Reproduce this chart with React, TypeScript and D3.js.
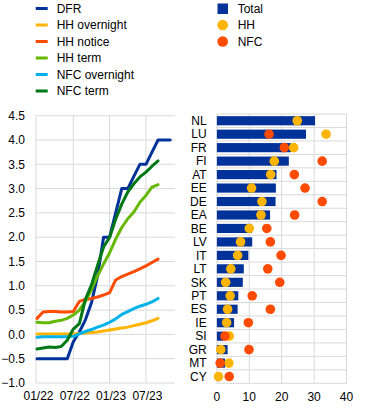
import React, { useEffect, useRef } from 'react';
import * as d3 from 'd3';

// monthly observations, Jan 2022 - Nov 2023
const months = [
  '2022-01', '2022-02', '2022-03', '2022-04', '2022-05', '2022-06',
  '2022-07', '2022-08', '2022-09', '2022-10', '2022-11', '2022-12',
  '2023-01', '2023-02', '2023-03', '2023-04', '2023-05', '2023-06',
  '2023-07', '2023-08', '2023-09', '2023-10', '2023-11',
];

const dfr = [-0.5, -0.5, -0.5, -0.5, -0.5, -0.5, -0.15, 0.05, 0.3, 0.65, 1.2, 2.0,
  2.0, 2.5, 3.0, 3.0, 3.25, 3.5, 3.5, 3.75, 4.0, 4.0, 4.0];
const hhOvernight = [0.01, 0.01, 0.01, 0.01, 0.01, 0.01, 0.01, 0.02, 0.03, 0.04, 0.05, 0.07,
  0.09, 0.11, 0.13, 0.15, 0.18, 0.21, 0.24, 0.28, 0.33];
const hhNotice = [0.33, 0.46, 0.47, 0.47, 0.46, 0.46, 0.47, 0.68, 0.72, 0.74, 0.77, 0.81,
  0.86, 1.12, 1.19, 1.24, 1.29, 1.35, 1.41, 1.48, 1.55];
const hhTerm = [0.25, 0.24, 0.24, 0.27, 0.29, 0.33, 0.4, 0.5, 0.68, 0.92, 1.2, 1.45,
  1.68, 1.96, 2.2, 2.38, 2.52, 2.72, 2.86, 3.03, 3.08];
const nfcOvernight = [-0.06, -0.05, -0.05, -0.05, -0.05, -0.05, -0.04, 0.01, 0.06, 0.1, 0.15, 0.19,
  0.25, 0.32, 0.41, 0.47, 0.53, 0.58, 0.62, 0.67, 0.74];
const nfcTerm = [-0.3, -0.28, -0.26, -0.27, -0.25, -0.12, 0.11, 0.22, 0.72, 1.02, 1.42, 1.8,
  2.0, 2.37, 2.68, 2.93, 3.1, 3.24, 3.34, 3.46, 3.57];

const lineSeries = [
  { name: 'DFR', color: '#003299', values: dfr },
  { name: 'HH overnight', color: '#ffb400', values: hhOvernight },
  { name: 'HH notice', color: '#ff4b00', values: hhNotice },
  { name: 'HH term', color: '#65b800', values: hhTerm },
  { name: 'NFC overnight', color: '#00b1ea', values: nfcOvernight },
  { name: 'NFC term', color: '#007816', values: nfcTerm },
];

const yTicks = [-1.0, -0.5, 0.0, 0.5, 1.0, 1.5, 2.0, 2.5, 3.0, 3.5, 4.0, 4.5];
const xTickMonths = ['2022-01', '2022-07', '2023-01', '2023-07'];
const xTickLabels = ['01/22', '07/22', '01/23', '07/23'];

// pass-through by country
const countries = ['NL', 'LU', 'FR', 'FI', 'AT', 'EE', 'DE', 'EA', 'BE', 'LV',
  'IT', 'LT', 'SK', 'PT', 'ES', 'IE', 'SI', 'GR', 'MT', 'CY'];
const totalPass = [30.3, 27.5, 22.8, 22.2, 18.4, 18.2, 18.1, 16.4, 10.8, 10.9,
  9.7, 8.3, 8.0, 6.6, 6.4, 5.3, 2.0, 3.3, 2.5, 1.0];
const hhPass = [24.8, 33.7, 23.7, 17.7, 16.6, 10.7, 13.9, 13.6, 10.0, 7.3,
  6.4, 4.3, 2.7, 4.1, 3.3, 3.0, 3.8, 1.2, 3.7, 0.5];
const nfcPass = [null, 16.1, 20.8, 32.5, 23.9, 27.2, 32.5, 24.0, 15.4, 16.5,
  19.8, 15.7, 19.4, 10.9, 16.5, 9.7, 2.5, 9.9, 1.0, 3.8];
const barTicks = [0, 10, 20, 30, 40];

const FONT = '"Liberation Sans", Arial, sans-serif';
const GRID = '#d9d9d9';

const App = () => {
  const svgRef = useRef<SVGSVGElement>(null);

  useEffect(() => {
    const svg = d3.select(svgRef.current);
    svg.selectAll('*').remove();
    svg.attr('width', 372).attr('height', 411)
      .style('font-family', FONT).style('font-size', '12px');

    // ---- left panel: rates ----
    const left = 36, right = 175;
    const x = d3.scaleLinear().domain([0, 22.8]).range([37, 175]);
    const y = d3.scaleLinear().domain([-1, 4.5]).range([383, 115.7]);
    const mi = (m: string) => months.indexOf(m);

    const lp = svg.append('g');
    lp.selectAll('.hg').data(yTicks).join('line')
      .attr('x1', left).attr('x2', right)
      .attr('y1', d => y(d)).attr('y2', d => y(d))
      .attr('stroke', GRID).attr('stroke-width', 1);
    lp.append('line').attr('x1', left).attr('x2', left)
      .attr('y1', y(4.5)).attr('y2', y(-1)).attr('stroke', GRID);
    lp.selectAll('.vg').data(xTickMonths.slice(1)).join('line')
      .attr('x1', d => x(mi(d))).attr('x2', d => x(mi(d)))
      .attr('y1', y(4.5)).attr('y2', y(-1)).attr('stroke', GRID);
    lp.selectAll('.yl').data(yTicks).join('text')
      .attr('x', 25).attr('y', d => y(d)).attr('dy', '0.35em')
      .attr('text-anchor', 'end').attr('fill', '#000')
      .text(d => d3.format('.1f')(d));
    lp.selectAll('.xl').data(xTickMonths).join('text')
      .attr('x', d => x(mi(d)) + 1.5).attr('y', 400)
      .attr('text-anchor', 'middle').attr('fill', '#000')
      .text((d, i) => xTickLabels[i]);

    const line = d3.line<number>().x((d, i) => x(i)).y(d => y(d));
    lp.selectAll('.series').data(lineSeries).join('path')
      .attr('d', d => line(d.values))
      .attr('fill', 'none').attr('stroke', d => d.color)
      .attr('stroke-width', 3).attr('stroke-linejoin', 'round').attr('stroke-linecap', 'round');

    // legend left
    const leg = svg.append('g');
    lineSeries.forEach((s, i) => {
      const cy = 8.5 + i * 16.5;
      leg.append('rect').attr('x', 35.7).attr('y', cy - 1.5).attr('width', 12).attr('height', 3).attr('fill', s.color);
      leg.append('text').attr('x', 56.7).attr('y', cy).attr('dy', '0.35em').attr('fill', '#000').text(s.name);
    });

    // ---- right panel: pass-through ----
    const bx = d3.scaleLinear().domain([0, 40]).range([216.9, 346.5]);
    const by = d3.scaleBand().domain(countries).range([114, 383.3]).padding(0);
    const bh = by.bandwidth() * 0.68;

    const rp = svg.append('g');
    rp.selectAll('.bh').data(d3.range(countries.length + 1)).join('line')
      .attr('x1', bx(0)).attr('x2', bx(40))
      .attr('y1', i => 114 + i * by.step()).attr('y2', i => 114 + i * by.step())
      .attr('stroke', GRID);
    rp.selectAll('.bv').data(barTicks).join('line')
      .attr('x1', d => bx(d)).attr('x2', d => bx(d))
      .attr('y1', 114).attr('y2', 383.3).attr('stroke', GRID);
    rp.selectAll('.bxl').data(barTicks).join('text')
      .attr('x', d => bx(d)).attr('y', 401).attr('text-anchor', 'middle').attr('fill', '#000')
      .text(d => d);
    rp.selectAll('.cl').data(countries).join('text')
      .attr('x', 206.7).attr('y', d => (by(d) as number) + by.bandwidth() / 2).attr('dy', '0.35em')
      .attr('text-anchor', 'end').attr('fill', '#000').text(d => d);

    rp.selectAll('.bar').data(countries).join('rect')
      .attr('x', bx(0)).attr('y', d => (by(d) as number) + (by.bandwidth() - bh) / 2)
      .attr('width', (d, i) => bx(totalPass[i]) - bx(0)).attr('height', bh)
      .attr('fill', '#003299');

    const cyOf = (d: string) => (by(d) as number) + by.bandwidth() / 2;
    rp.selectAll('.hh').data(countries).join('circle')
      .attr('cx', (d, i) => bx(hhPass[i])).attr('cy', cyOf)
      .attr('r', 4.8).attr('fill', '#ffb400');
    rp.selectAll('.nfc').data(countries.filter((c, i) => nfcPass[i] != null)).join('circle')
      .attr('cx', d => bx(nfcPass[countries.indexOf(d)] as number)).attr('cy', cyOf)
      .attr('r', 4.8).attr('fill', '#ff4b00');

    // legend right
    const rl = svg.append('g');
    rl.append('rect').attr('x', 217.5).attr('y', 3.5).attr('width', 10.5).attr('height', 10.5).attr('fill', '#003299');
    rl.append('circle').attr('cx', 222.7).attr('cy', 25).attr('r', 5.3).attr('fill', '#ffb400');
    rl.append('circle').attr('cx', 222.7).attr('cy', 41.5).attr('r', 5.3).attr('fill', '#ff4b00');
    ['Total', 'HH', 'NFC'].forEach((t, i) => {
      rl.append('text').attr('x', 237.7).attr('y', 8.5 + i * 16.5).attr('dy', '0.35em').attr('fill', '#000').text(t);
    });
  }, []);

  return (
    <div style={{ position: 'absolute', left: 0, top: 0, width: 372, height: 411, background: '#fff' }}>
      <svg ref={svgRef}></svg>
    </div>
  );
};

export default App;
